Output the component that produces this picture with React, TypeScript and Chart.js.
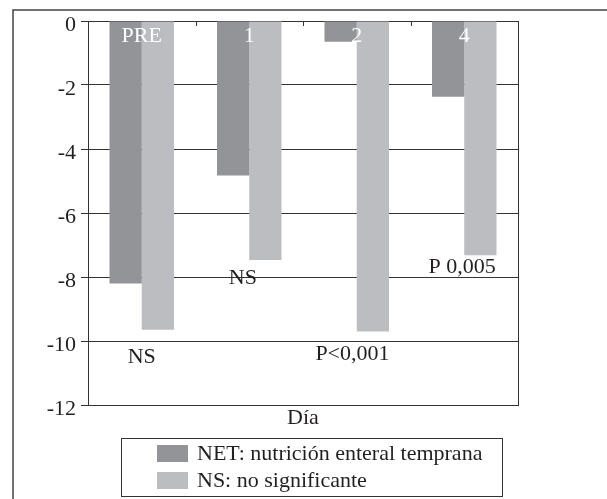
import React, { useEffect, useRef } from 'react';
import { Chart, registerables } from 'chart.js';

Chart.register(...registerables);

const categories = ['PRE', '1', '2', '4'];
const netValues = [-8.2, -4.83, -0.65, -2.37];
const nsValues = [-9.65, -7.47, -9.7, -7.32];
const seriesLabels = ['NET: nutrición enteral temprana', 'NS: no significante'];
const seriesColors = ['#939498', '#bcbdc0'];
const yMin = -12;
const yMax = 0;
const yStep = 2;
const noteTexts = ['NS', 'NS', 'P<0,001', 'P 0,005'];
const notePositions = [0, 0.94, 1.96, 2.98];
const noteValues = [-10.52, -8.05, -10.4, -7.7];
const axisTitle = 'Día';

const FONT = '"Liberation Serif", "Times New Roman", "DejaVu Serif", serif';
const FS = 22;
const TEXT = '#231f20';
const LINE = '#333333';

const decorPlugin = {
  id: 'decor',
  beforeDraw(chart: any) {
    const ctx = chart.ctx;
    ctx.save();
    ctx.strokeStyle = '#444';
    ctx.lineWidth = 1.5;
    ctx.beginPath();
    ctx.moveTo(13, 499);
    ctx.lineTo(13, 10);
    ctx.lineTo(607, 10);
    ctx.stroke();
    ctx.restore();
  },
  afterDatasetsDraw(chart: any) {
    const ctx = chart.ctx;
    const x = chart.scales.x;
    const y = chart.scales.y;
    const area = chart.chartArea;
    ctx.save();
    ctx.strokeStyle = LINE;
    ctx.lineWidth = 1;
    ctx.beginPath();
    ctx.moveTo(Math.round(area.right) + 0.5, area.top);
    ctx.lineTo(Math.round(area.right) + 0.5, area.bottom);
    ctx.stroke();
    for (let i = 1; i < categories.length; i++) {
      const px = Math.round(x.getPixelForValue(i - 0.5)) + 0.5;
      ctx.beginPath();
      ctx.moveTo(px, area.top);
      ctx.lineTo(px, area.top + 5);
      ctx.stroke();
    }
    ctx.font = `${FS}px ${FONT}`;
    ctx.fillStyle = '#ffffff';
    ctx.textAlign = 'center';
    ctx.textBaseline = 'alphabetic';
    categories.forEach((c, i) => {
      ctx.fillText(c, x.getPixelForValue(i), area.top + 21);
    });
    ctx.fillStyle = TEXT;
    ctx.textBaseline = 'middle';
    noteTexts.forEach((t, i) => {
      ctx.fillText(t, x.getPixelForValue(notePositions[i]), y.getPixelForValue(noteValues[i]));
    });
    ctx.strokeStyle = '#333';
    ctx.lineWidth = 1;
    ctx.strokeRect(121.5, 438.5, 381, 58);
    ctx.textAlign = 'left';
    seriesLabels.forEach((l, i) => {
      const top = 445 + i * 27;
      ctx.fillStyle = seriesColors[i];
      ctx.fillRect(157, top, 31, 17);
      ctx.fillStyle = TEXT;
      ctx.fillText(l, 197, top + 9);
    });
    ctx.restore();
  },
};

export default function App() {
  const ref = useRef<HTMLCanvasElement>(null);
  useEffect(() => {
    if (!ref.current) return;
    let chart: any = null;
    let cancelled = false;
    const build = () => {
      if (cancelled || !ref.current) return;
      chart = new Chart(ref.current, {
        type: 'bar',
        data: {
          labels: categories,
          datasets: [
            { label: seriesLabels[0], data: netValues, backgroundColor: seriesColors[0], categoryPercentage: 0.6, barPercentage: 1.0 },
            { label: seriesLabels[1], data: nsValues, backgroundColor: seriesColors[1], categoryPercentage: 0.6, barPercentage: 1.0 },
          ],
        },
        options: {
          responsive: false,
          animation: false,
          devicePixelRatio: 1,
          layout: { padding: { left: 0, top: 21, right: 89, bottom: 64 } },
          plugins: { legend: { display: false }, tooltip: { enabled: false } },
          scales: {
            x: {
              position: 'bottom',
              grid: { display: true, color: 'transparent', drawTicks: false },
              border: { display: true, color: LINE, width: 1 },
              ticks: { display: false },
              title: { display: true, text: axisTitle, color: TEXT, font: { family: FONT, size: FS }, padding: { top: 2, bottom: 4 } },
              afterFit(scale: any) { scale.height = 30; },
            },
            y: {
              min: yMin,
              max: yMax,
              grid: { color: LINE, lineWidth: 1, tickLength: 7, tickColor: LINE },
              border: { display: true, color: LINE, width: 1 },
              ticks: { stepSize: yStep, color: TEXT, font: { family: FONT, size: FS }, padding: 5, labelOffset: 4 },
              afterFit(scale: any) { scale.width = 88; },
            },
          },
        },
        plugins: [decorPlugin],
      } as any);
    };
    const fonts: any = (document as any).fonts;
    if (fonts && fonts.load) {
      Promise.all([
        fonts.load(`${FS}px "Liberation Serif"`),
        fonts.load(`${FS}px "Liberation Serif"`, 'Díaó'),
      ]).then(build, build);
    } else {
      build();
    }
    return () => {
      cancelled = true;
      if (chart) chart.destroy();
    };
  }, []);
  return (
    <div style={{ position: 'fixed', left: 0, top: 0, width: 607, height: 499, background: '#fff' }}>
      <canvas ref={ref} width={607} height={499} style={{ display: 'block' }} />
    </div>
  );
}
